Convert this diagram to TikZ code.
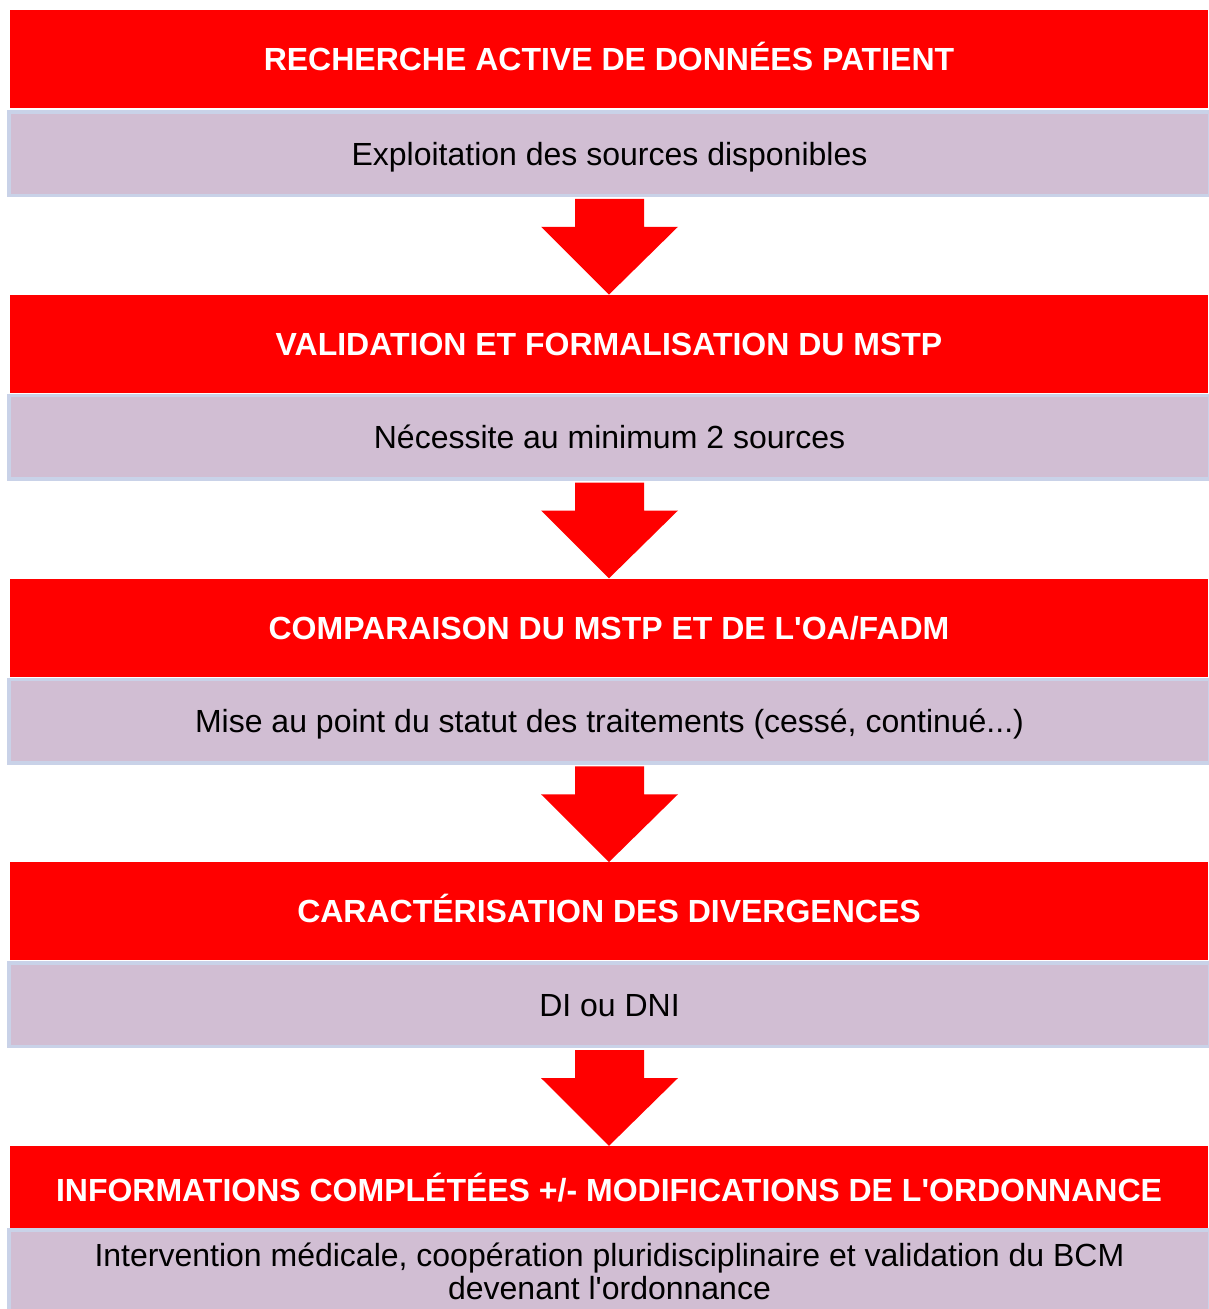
\documentclass[tikz,border=0pt]{standalone}
\usepackage{fontspec}
\setmainfont{Liberation Sans}
\definecolor{hdred}{HTML}{FF0000}
\definecolor{lav}{HTML}{D1BED3}
\definecolor{lavedge}{HTML}{C9D2E8}
\newcommand{\apos}{\textquotesingle}
\begin{document}
\begin{tikzpicture}[x=1pt,y=-1pt,
  hdbox/.style={rectangle,fill=hdred,minimum width=1198pt,minimum height=98pt,inner sep=0pt,text=white,
    text height=23pt,text depth=0pt,font=\fontsize{32}{33}\selectfont\bfseries},
  subbox/.style={rectangle,fill=lav,draw=lavedge,line width=3.5pt,minimum width=1201pt,minimum height=83.5pt,inner sep=0pt,
    align=center,font=\fontsize{32}{33}\selectfont},
  onelinesub/.style={subbox,text height=23pt,text depth=0pt},
  bigarrow/.style={fill=hdred}]
\useasboundingbox (0,0) rectangle (1208,1309);
% boxes
\node[hdbox] (r1) at (609,59) {RECHERCHE ACTIVE DE DONNÉES PATIENT};
\node[onelinesub] (s1) at (609.5,153.5) {Exploitation des sources disponibles};
\node[hdbox] (r2) at (609,343.75) {VALIDATION ET FORMALISATION DU MSTP};
\node[onelinesub] (s2) at (609.5,437.25) {Nécessite au minimum 2 sources};
\node[hdbox] (r3) at (609,627.5) {COMPARAISON DU MSTP ET DE L\apos OA/FADM};
\node[onelinesub] (s3) at (609.5,721) {Mise au point du statut des traitements (cessé, continué...)};
\node[hdbox] (r4) at (609,911.25) {CARACTÉRISATION DES DIVERGENCES};
\node[onelinesub] (s4) at (609.5,1004.75) {DI ou DNI};
\node[hdbox,minimum height=82pt,text height=29pt] (r5) at (609,1187) {INFORMATIONS COMPLÉTÉES +/- MODIFICATIONS DE L\apos ORDONNANCE};
\node[subbox] (s5) at (609.5,1271.5) {Intervention médicale, coopération pluridisciplinaire et validation du BCM\\devenant l\apos ordonnance};
% arrows
\foreach \a/\b in {s1/r2,s2/r3,s3/r4,s4/r5}{
  \fill[bigarrow] ([shift={(-34.5,1.75)}]\a.south) -- ([shift={(34.5,1.75)}]\a.south)
    -- ([shift={(34.5,29.75)}]\a.south) -- ([shift={(68.5,29.75)}]\a.south)
    -- (\b.north) -- ([shift={(-68.5,29.75)}]\a.south)
    -- ([shift={(-34.5,29.75)}]\a.south) -- cycle;
}
\end{tikzpicture}
\end{document}
